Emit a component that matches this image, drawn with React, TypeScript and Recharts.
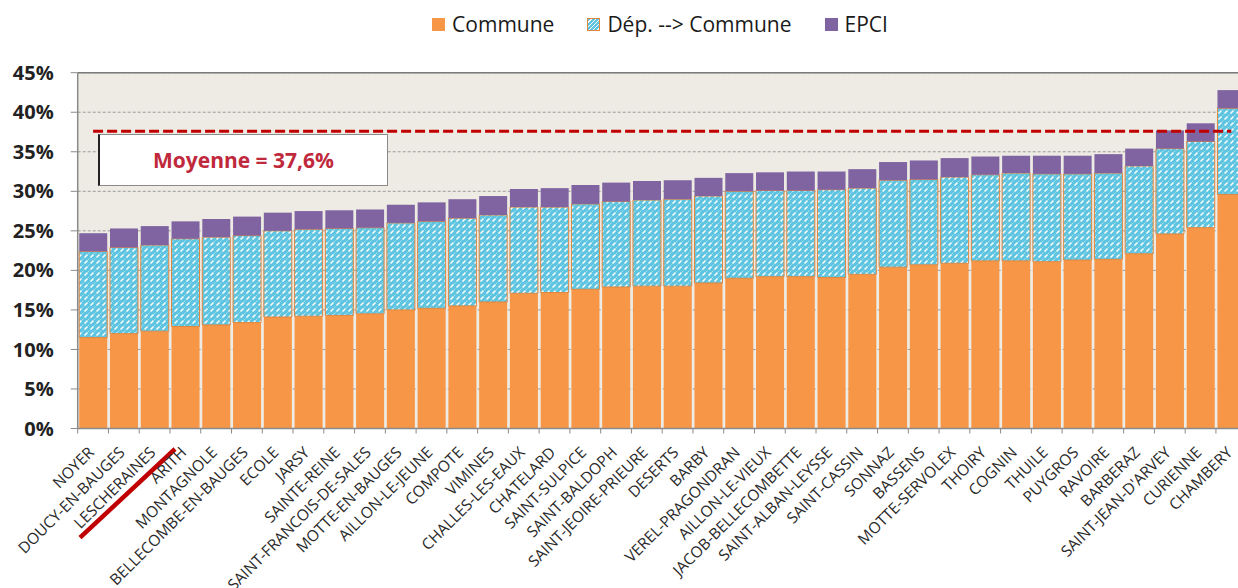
import React from 'react';
import { BarChart, Bar, XAxis, YAxis, CartesianGrid, ReferenceLine } from 'recharts';

const communes = [
  'NOYER', 'DOUCY-EN-BAUGES', 'LESCHERAINES', 'ARITH', 'MONTAGNOLE', 'BELLECOMBE-EN-BAUGES',
  'ECOLE', 'JARSY', 'SAINTE-REINE', 'SAINT-FRANCOIS-DE-SALES', 'MOTTE-EN-BAUGES', 'AILLON-LE-JEUNE',
  'COMPOTE', 'VIMINES', 'CHALLES-LES-EAUX', 'CHATELARD', 'SAINT-SULPICE', 'SAINT-BALDOPH',
  'SAINT-JEOIRE-PRIEURE', 'DESERTS', 'BARBY', 'VEREL-PRAGONDRAN', 'AILLON-LE-VIEUX',
  'JACOB-BELLECOMBETTE', 'SAINT-ALBAN-LEYSSE', 'SAINT-CASSIN', 'SONNAZ', 'BASSENS',
  'MOTTE-SERVOLEX', 'THOIRY', 'COGNIN', 'THUILE', 'PUYGROS', 'RAVOIRE', 'BARBERAZ',
  "SAINT-JEAN-D'ARVEY", 'CURIENNE', 'CHAMBERY',
];

const communeShare = [
  11.5, 12.0, 12.3, 12.9, 13.1, 13.4, 14.1, 14.2, 14.3, 14.5, 15.0, 15.2, 15.5, 16.0, 17.1, 17.2,
  17.6, 17.9, 18.0, 18.0, 18.4, 19.0, 19.2, 19.2, 19.1, 19.5, 20.4, 20.7, 20.9, 21.2, 21.2, 21.1,
  21.3, 21.4, 22.1, 24.6, 25.4, 29.6,
];

const depShare = [
  10.9, 10.9, 10.9, 11.1, 11.1, 11.0, 10.9, 11.0, 11.0, 10.9, 11.0, 11.0, 11.1, 11.0, 10.9, 10.8,
  10.8, 10.8, 10.9, 11.0, 11.0, 11.0, 10.9, 10.9, 11.1, 10.9, 11.0, 10.8, 10.9, 10.9, 11.1, 11.1,
  10.9, 10.9, 11.1, 10.8, 10.9, 10.9,
];

const epciShare = [
  2.3, 2.4, 2.4, 2.2, 2.3, 2.4, 2.3, 2.3, 2.3, 2.3, 2.3, 2.4, 2.4, 2.4, 2.3, 2.4,
  2.4, 2.4, 2.4, 2.4, 2.3, 2.3, 2.3, 2.4, 2.3, 2.4, 2.3, 2.4, 2.4, 2.3, 2.2, 2.3,
  2.3, 2.4, 2.2, 2.3, 2.3, 2.3,
];

const yTicks = [0, 5, 10, 15, 20, 25, 30, 35, 40, 45];
const meanValue = 37.6;
const meanLabel = 'Moyenne = 37,6%';
const struckCommune = 'LESCHERAINES';

const legendItems = ['Commune', 'Dép. --> Commune', 'EPCI'];

const data = communes.map((name, i) => ({
  name,
  commune: communeShare[i],
  dep: depShare[i],
  epci: epciShare[i],
}));

const ORANGE = '#F79646';
const PURPLE = '#8064A2';
const FONT = '"Open Sans", "DejaVu Sans", sans-serif';

const XTick = (props: any) => {
  const { x, y, payload } = props;
  const off = payload && payload.offset ? payload.offset : 15.39;
  const isLast = payload && payload.value === communes[communes.length - 1];
  return (
    <g>
      <line x1={x - off} x2={x - off} y1={y} y2={y + 5} stroke="#8a8a8a" strokeWidth={1} />
      {isLast && <line x1={x + off} x2={x + off} y1={y} y2={y + 5} stroke="#8a8a8a" strokeWidth={1} />}
      <text
        transform={`translate(${x + 2},${y + 25}) rotate(-45)`}
        textAnchor="end"
        fontFamily={FONT}
        fontSize={15.5}
        fill="#2a2a2a"
      >
        {payload.value}
      </text>
      {payload.value === struckCommune && (
        <line x1={x - 74.6} y1={y + 109.2} x2={x + 20.4} y2={y + 20.5} stroke="#C00000" strokeWidth={4.5} />
      )}
    </g>
  );
};

export default function App() {
  return (
    <div style={{ position: 'fixed', left: 0, top: 0, width: 1238, height: 588, overflow: 'hidden', background: '#fff' }}>
      <BarChart
        width={1260}
        height={588}
        data={data}
        margin={{ top: 72.7, right: 13.3, bottom: 9.5, left: 7.7 }}
        barCategoryGap="5%"
      >
        <defs>
          <pattern id="depPattern" patternUnits="userSpaceOnUse" width="6" height="6">
            <rect width="6" height="6" fill="#5EC4DF" />
            <path d="M0.5,5.5 L3.5,2.5" stroke="#ffffff" strokeWidth={1.5} />
            <path d="M3.5,2.5 L5.5,0.5" stroke="#a9e2f1" strokeWidth={1} />
          </pattern>
        </defs>
        <CartesianGrid vertical={false} stroke="#9a9a9a" strokeDasharray="3 2" fill="#EDEBE3" />
        <XAxis
          dataKey="name"
          interval={0}
          height={150}
          tickSize={0}
          tickMargin={0}
          tickLine={false}
          axisLine={{ stroke: '#8a8a8a', strokeWidth: 1.5 }}
          tick={<XTick />}
        />
        <YAxis
          width={70}
          domain={[0, 45]}
          ticks={yTicks}
          tickFormatter={(v: number) => `${v}%`}
          tickSize={7}
          tickMargin={17}
          tickLine={{ stroke: '#8a8a8a' }}
          axisLine={{ stroke: '#8a8a8a', strokeWidth: 1.5 }}
          tick={{ fontFamily: FONT, fontSize: 20, fontWeight: 700, fill: '#222' }}
        />
        <ReferenceLine y={45} stroke="#7a7a7a" strokeWidth={1.5} />
        <Bar dataKey="commune" stackId="a" fill={ORANGE} isAnimationActive={false} />
        <Bar dataKey="dep" stackId="a" fill="url(#depPattern)" stroke="#E0873F" strokeWidth={1} isAnimationActive={false} />
        <Bar dataKey="epci" stackId="a" fill={PURPLE} isAnimationActive={false} />
        <ReferenceLine
          segment={[
            { x: communes[0], y: meanValue },
            { x: communes[communes.length - 1], y: meanValue },
          ]}
          stroke="#C00000"
          strokeWidth={3}
          strokeDasharray="10 4"
        />
      </BarChart>

      <div
        style={{
          position: 'absolute', left: 98, top: 134, width: 287, height: 50,
          background: '#fff', border: '1px solid #8a8a8a', borderLeft: '2px solid #222',
          display: 'flex', alignItems: 'center', justifyContent: 'center',
          fontFamily: FONT, fontWeight: 700, fontSize: 21, color: '#C0283C',
        }}
      >
        {meanLabel}
      </div>

      <div
        style={{
          position: 'absolute', left: 0, top: 10, width: 1320, display: 'flex', justifyContent: 'center',
          alignItems: 'center', fontFamily: FONT, fontSize: 21, color: '#1a1a1a',
        }}
      >
        {legendItems.map((label, i) => (
          <div key={label} style={{ display: 'flex', alignItems: 'center', marginRight: i < 2 ? 33 : 0 }}>
            <div
              style={{
                width: 13, height: 13, marginRight: 7, boxSizing: 'border-box',
                background:
                  i === 0
                    ? ORANGE
                    : i === 2
                    ? PURPLE
                    : 'repeating-linear-gradient(135deg, #5EC4DF 0px, #5EC4DF 2px, #ffffff 2px, #ffffff 3px)',
                border: i === 1 ? '1px solid #E0873F' : 'none',
              }}
            />
            <span>{label}</span>
          </div>
        ))}
      </div>
    </div>
  );
}
